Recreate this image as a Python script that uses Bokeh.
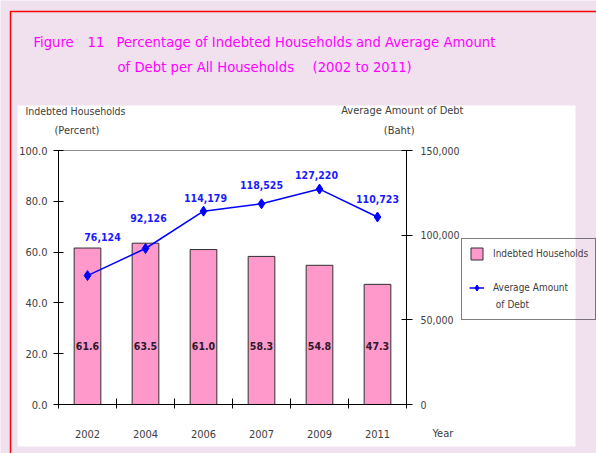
from bokeh.plotting import figure
from bokeh.models import (Range1d, LinearAxis, FixedTicker, Label, BoxAnnotation,
                          Legend, LegendItem, NumeralTickFormatter, ColumnDataSource)
from bokeh.core.properties import value
from bokeh.embed import file_html
from bokeh.resources import INLINE

# ---- data ----
years = ["2002", "2004", "2006", "2007", "2009", "2011"]
indebted_pct = [61.6, 63.5, 61.0, 58.3, 54.8, 47.3]
avg_debt = [76124, 92126, 114179, 118525, 127220, 110723]
left_ticks = [0, 20, 40, 60, 80, 100]
right_ticks = [0, 50000, 100000, 150000]
pct_max = 100
debt_max = 150000

# ---- layout / styling ----
W, H = 596, 453
PX_L, PX_R, PX_T, PX_B = 58, 406, 150, 404   # plot-area edges (pixels)
FONT = "DejaVu Sans Condensed"
BG = "#f1e1ef"
PINK = "#ff99cc"
BLUE = "#0000ff"
MAGENTA = "#ff00ff"
TXT = "#404040"
debt_label_dx = [15, 3, 2, 0, -3, 0]      # pixel nudges of the value labels
debt_label_dy = [39, 30, 13, 19, 14, 18]
bar_label_level = 23

n = len(years)
xc = [i + 0.5 for i in range(n)]
ux = (PX_R - PX_L) / n
uy = (PX_B - PX_T) / pct_max
ud = (PX_B - PX_T) / debt_max
x_range = Range1d(-PX_L / ux, (W - PX_L) / ux)
y_range = Range1d(-(H - PX_B) / uy, PX_B / uy)
d_range = Range1d(-(H - PX_B) / ud, PX_B / ud)

p = figure(width=W, height=H, output_backend="svg", toolbar_location=None,
           x_range=x_range, y_range=y_range, min_border=0,
           x_axis_location=None, y_axis_location=None)
p.border_fill_color = BG
p.background_fill_color = BG
p.outline_line_color = None
p.grid.visible = False
p.extra_y_ranges = {"debt": d_range}

def sy(y):  # top-down pixel -> screen (bottom-up)
    return H - y

# white panel and red frame
p.add_layout(BoxAnnotation(left=17, right=575, top=sy(105), bottom=sy(446),
                           left_units="screen", right_units="screen",
                           top_units="screen", bottom_units="screen",
                           fill_color="white", fill_alpha=1, line_color=None,
                           level="underlay"))
p.add_layout(BoxAnnotation(left=10, right=W + 20, top=sy(11), bottom=-20,
                           left_units="screen", right_units="screen",
                           top_units="screen", bottom_units="screen",
                           fill_alpha=0, line_color="#ff0000", line_alpha=1,
                           line_width=1.5, level="underlay"))

src = ColumnDataSource(dict(x=xc, pct=indebted_pct, debt=avg_debt,
                            pct_lab=[f"{v:.1f}" for v in indebted_pct],
                            debt_lab=[f"{v:,}" for v in avg_debt],
                            dx=debt_label_dx, dy=[-d for d in debt_label_dy],
                            lab_y=[bar_label_level] * n))

bars = p.vbar(x="x", top="pct", width=0.46, source=src, fill_color=PINK,
              line_color="#303030", line_width=1)
line = p.line(x="x", y="debt", source=src, y_range_name="debt",
              line_color=BLUE, line_width=1.5)
pts = p.scatter(x="x", y="debt", source=src, y_range_name="debt",
                marker="diamond", size=10, fill_color=BLUE, line_color=BLUE)
blank = p.line(x=[], y=[], line_alpha=0)   # spacer entry for the legend

p.text(x="x", y="lab_y", text="pct_lab", source=src, text_align="center",
       text_baseline="middle", text_font=value(FONT), text_font_size="10.5px",
       text_font_style="bold", text_color="#2a1a2a")
p.text(x="x", y="debt", text="debt_lab", source=src, y_range_name="debt",
       x_offset="dx", y_offset="dy", text_align="center", text_baseline="middle",
       text_font=value(FONT), text_font_size="10.5px", text_font_style="bold",
       text_color="#1a1aff")

# axes (fixed in place inside the canvas)
xa = LinearAxis(fixed_location=0, bounds=(0, n),
                ticker=FixedTicker(ticks=xc, minor_ticks=list(range(n + 1))))
xa.major_label_overrides = {x: y for x, y in zip(xc, years)}
xa.major_tick_line_color = None
xa.minor_tick_in = 6
xa.minor_tick_out = 4
xa.minor_tick_line_color = "black"
xa.major_label_standoff = 19
p.add_layout(xa, "below")

ya = LinearAxis(fixed_location=0, bounds=(0, pct_max),
                ticker=FixedTicker(ticks=left_ticks),
                formatter=NumeralTickFormatter(format="0.0"))
ya.major_tick_in = 5
ya.major_tick_out = 5
ya.minor_tick_line_color = None
ya.major_label_standoff = 6
p.add_layout(ya, "left")

ra = LinearAxis(y_range_name="debt", fixed_location=n, bounds=(0, debt_max),
                ticker=FixedTicker(ticks=right_ticks),
                formatter=NumeralTickFormatter(format="0,0"))
ra.major_tick_in = 5
ra.major_tick_out = 6
ra.minor_tick_line_color = None
ra.major_label_standoff = 8
p.add_layout(ra, "right")

ta = LinearAxis(fixed_location=pct_max, bounds=(0, n), ticker=FixedTicker(ticks=[]))
ta.axis_line_color = "#8c8c8c"
ta.major_tick_line_color = None
ta.minor_tick_line_color = None
ta.major_label_text_alpha = 0
p.add_layout(ta, "above")

for ax, fs in ((xa, "11px"), (ya, "11px"), (ra, "10.5px")):
    ax.axis_line_color = "black"
    ax.major_label_text_font = FONT
    ax.major_label_text_font_size = fs
    ax.major_label_text_color = TXT

def lab(text, x, y, size="11px", align="left", color=TXT):
    p.add_layout(Label(x=x, y=sy(y), x_units="screen", y_units="screen", text=text,
                       text_font=FONT, text_font_size=size, text_align=align,
                       text_baseline="alphabetic", text_color=color))

# title
TS = "14.7px"
lab("Figure", 33, 41, TS, color=MAGENTA)
lab("11", 87, 41, TS, color=MAGENTA)
lab("Percentage of Indebted Households and Average Amount", 116, 41, TS, color=MAGENTA)
lab("of Debt per All Households", 117, 66, TS, color=MAGENTA)
lab("(2002 to 2011)", 312, 66, TS, color=MAGENTA)

# axis titles
lab("Indebted Households", 25, 110, "10.5px")
lab("(Percent)", 54, 130)
lab("Average Amount of Debt", 463, 110, align="right")
lab("(Baht)", 414, 130, align="right")
lab("Year", 432, 433)

legend = Legend(items=[LegendItem(label="Indebted Households", renderers=[bars]),
                       LegendItem(label="\u00a0", renderers=[blank]),
                       LegendItem(label="Average Amount", renderers=[line, pts]),
                       LegendItem(label="\u00a0of Debt", renderers=[blank])],
                location=(461, sy(320)), background_fill_alpha=0,
                border_line_color="black", border_line_width=1,
                label_text_font=FONT, label_text_font_size="10px",
                label_text_color=TXT, glyph_width=15, glyph_height=15,
                padding=7, spacing=2, margin=0, label_standoff=9)
p.add_layout(legend)

open("out.html", "w").write(file_html(p, INLINE))
